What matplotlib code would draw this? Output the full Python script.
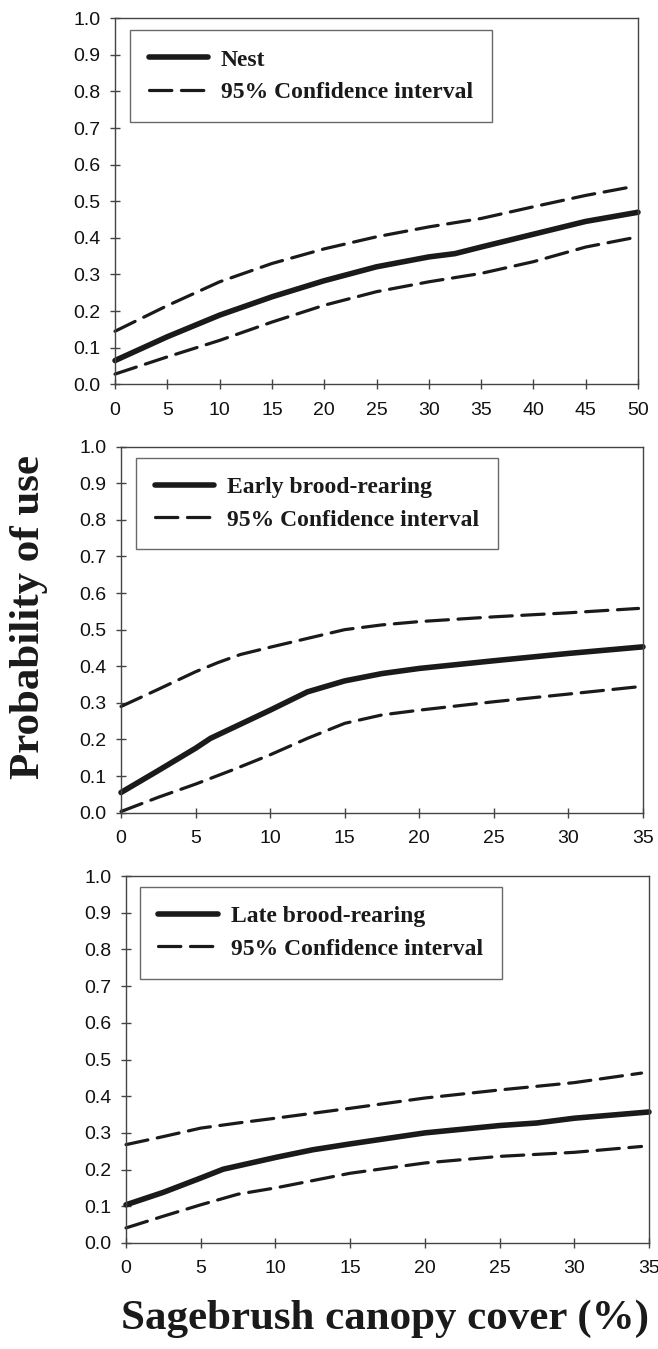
import numpy as np
import matplotlib
matplotlib.use('Agg')
import matplotlib.pyplot as plt

# Nest
nest_x = [0, 5, 10, 15, 20, 25, 30, 32.5, 35, 40, 45, 50]
nest_mean = [0.065, 0.13, 0.189, 0.239, 0.283, 0.321, 0.348, 0.357, 0.375, 0.41, 0.445, 0.47]
nest_ci_x = [0, 5, 10, 15, 20, 25, 30, 35, 40, 45, 49.5]
nest_upper = [0.145, 0.215, 0.28, 0.33, 0.37, 0.403, 0.43, 0.453, 0.485, 0.516, 0.54]
nest_lower = [0.028, 0.075, 0.12, 0.17, 0.216, 0.253, 0.28, 0.303, 0.335, 0.375, 0.4]

# Early brood-rearing
early_x = [0, 2.5, 5, 6, 10, 12.5, 15, 17.5, 20, 25, 30, 35]
early_mean = [0.055, 0.115, 0.176, 0.203, 0.28, 0.33, 0.36, 0.38, 0.394, 0.415, 0.435, 0.453]
early_up_x = [0, 2.5, 5, 6.5, 8, 10, 12.5, 15, 17.5, 20, 25, 30, 34.7]
early_upper = [0.29, 0.337, 0.385, 0.41, 0.432, 0.452, 0.476, 0.5, 0.513, 0.522, 0.535, 0.546, 0.558]
early_lo_x = [0, 2.5, 5, 7.5, 10, 12.5, 15, 17.5, 20, 25, 30, 34.7]
early_lower = [0.003, 0.042, 0.078, 0.117, 0.158, 0.203, 0.244, 0.267, 0.28, 0.303, 0.324, 0.344]

# Late brood-rearing
late_x = [0, 2.5, 5, 6.5, 10, 12.5, 15, 20, 25, 27.5, 30, 35]
late_mean = [0.104, 0.138, 0.177, 0.201, 0.233, 0.254, 0.27, 0.3, 0.32, 0.327, 0.34, 0.357]
late_ci_x = [0, 2.5, 5, 7.5, 10, 15, 20, 25, 30, 34.5]
late_upper = [0.268, 0.29, 0.313, 0.327, 0.34, 0.367, 0.395, 0.417, 0.437, 0.463]
late_lower = [0.041, 0.073, 0.104, 0.133, 0.15, 0.19, 0.218, 0.236, 0.247, 0.263]

yticks = np.round(np.arange(0, 1.01, 0.1), 1)

fig = plt.figure(figsize=(6.58, 13.49), dpi=100)

panels = [
    dict(rect=[0.1748, 0.7151, 0.7948, 0.2714], x=nest_x, m=nest_mean,
         ux=nest_ci_x, u=nest_upper, lx=nest_ci_x, l=nest_lower,
         xmax=50, xt=np.arange(0, 51, 5), name='Nest', anchor=(0.029, 0.967)),
    dict(rect=[0.1839, 0.3976, 0.7933, 0.2713], x=early_x, m=early_mean,
         ux=early_up_x, u=early_upper, lx=early_lo_x, l=early_lower,
         xmax=35, xt=np.arange(0, 36, 5), name='Early brood-rearing', anchor=(0.029, 0.969)),
    dict(rect=[0.1915, 0.0786, 0.7948, 0.2720], x=late_x, m=late_mean,
         ux=late_ci_x, u=late_upper, lx=late_ci_x, l=late_lower,
         xmax=35, xt=np.arange(0, 36, 5), name='Late brood-rearing', anchor=(0.026, 0.970)),
]

col = '#1a1a1a'
for p in panels:
    ax = fig.add_axes(p['rect'])
    ax.plot(p['x'], p['m'], color=col, lw=4.0, solid_capstyle='round',
            solid_joinstyle='round', clip_on=False, label=p['name'])
    ax.plot(p['ux'], p['u'], color=col, lw=2.3, dashes=(7, 3),
            dash_capstyle='round', clip_on=False, label='95% Confidence interval')
    ax.plot(p['lx'], p['l'], color=col, lw=2.3, dashes=(7, 3),
            dash_capstyle='round', clip_on=False)
    ax.set_xlim(0, p['xmax'])
    ax.set_ylim(0, 1.0)
    ax.set_xticks(p['xt'])
    ax.set_yticks(yticks)
    ax.set_yticklabels(['%.1f' % v for v in yticks])
    for s in ax.spines.values():
        s.set_color('#444444')
        s.set_linewidth(1.0)
    ax.tick_params(direction='inout', length=7, width=1, color='#444444',
                   labelsize=14, labelcolor='#111111')
    ax.tick_params(axis='x', pad=9)
    ax.tick_params(axis='y', pad=7)
    for t in ax.get_xticklabels() + ax.get_yticklabels():
        t.set_fontfamily('Liberation Sans')
    leg = ax.legend(loc='upper left', bbox_to_anchor=p['anchor'], borderaxespad=0,
                    prop={'family': 'Liberation Serif', 'weight': 'bold', 'size': 17},
                    frameon=True, fancybox=False, edgecolor='#444444',
                    handlelength=2.5, handletextpad=0.55, borderpad=0.8,
                    labelspacing=0.45)
    leg.get_frame().set_linewidth(1.0)
    for t in leg.get_texts():
        t.set_color('#1a1a1a')

fig.text(0.044, 0.5426, 'Probability of use', rotation=90, ha='center', va='center',
         family='Liberation Serif', weight='bold', size=31, color='#1a1a1a')
fig.text(0.585, 0.0225, 'Sagebrush canopy cover (%)', ha='center', va='center',
         family='Liberation Serif', weight='bold', size=31, color='#1a1a1a')

fig.savefig('out.png', dpi=100)
